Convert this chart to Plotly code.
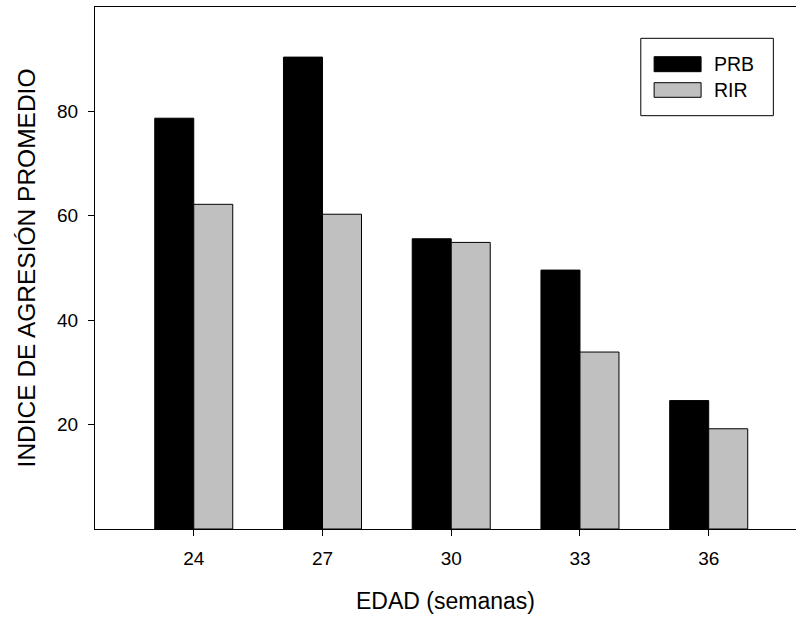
import plotly.graph_objects as go

edad = ["24", "27", "30", "33", "36"]
prb = [78.7, 90.4, 55.6, 49.6, 24.6]
rir = [62.2, 60.3, 54.9, 33.9, 19.2]
y_ticks = [20, 40, 60, 80]

FONT = "Liberation Sans, Arial, sans-serif"

fig = go.Figure()
fig.add_trace(go.Bar(x=edad, y=prb, name="PRB",
                     marker=dict(color="#000000", line=dict(color="#000000", width=1))))
fig.add_trace(go.Bar(x=edad, y=rir, name="RIR",
                     marker=dict(color="#c0c0c0", line=dict(color="#000000", width=1))))

fig.update_layout(
    width=796, height=618,
    margin=dict(l=94.5, r=0, t=7, b=89),
    paper_bgcolor="white", plot_bgcolor="white",
    barmode="group", bargap=0.394, bargroupgap=0,
    showlegend=False,
    font=dict(family=FONT, color="#000000"),
)
fig.update_xaxes(
    type="category", range=[-0.767, 4.678],
    showline=True, linecolor="#000000", linewidth=1, mirror=True,
    ticks="outside", ticklen=6, tickwidth=1, tickcolor="#000000",
    tickfont=dict(size=19, family=FONT), showgrid=False, zeroline=False,
    ticklabelstandoff=6,
    title=dict(text="EDAD (semanas)", font=dict(size=23, family=FONT), standoff=25),
    automargin=False,
)
fig.update_yaxes(
    range=[0, 100], tickvals=y_ticks,
    showline=True, linecolor="#000000", linewidth=1,
    ticks="outside", ticklen=6, tickwidth=1, tickcolor="#000000",
    tickfont=dict(size=19, family=FONT), showgrid=False, zeroline=False,
    ticklabelstandoff=6,
    title=dict(text="INDICE DE AGRESIÓN PROMEDIO", font=dict(size=24.5, family=FONT), standoff=14),
    automargin=False,
)

# custom legend (box with wide swatches)
fig.add_shape(type="rect", xref="paper", yref="paper", x0=0.7786, x1=0.9677, y0=0.7918, y1=0.940,
              line=dict(color="#000000", width=1), fillcolor="white")
fig.add_shape(type="rect", xref="paper", yref="paper", x0=0.7976, x1=0.8646, y0=0.8761, y1=0.9048,
              line=dict(color="#000000", width=1), fillcolor="#000000")
fig.add_shape(type="rect", xref="paper", yref="paper", x0=0.7976, x1=0.8646, y0=0.827, y1=0.855,
              line=dict(color="#000000", width=1), fillcolor="#c0c0c0")
for name, yc in (("PRB", 0.8904), ("RIR", 0.841)):
    fig.add_annotation(xref="paper", yref="paper", x=0.8798, y=yc, text=name, showarrow=False,
                       xanchor="left", yanchor="middle", font=dict(size=19.5, family=FONT))

fig.write_html("out.html", config={"displayModeBar": False},
               post_script="document.body.style.margin='0px';document.body.style.overflow='hidden';")
